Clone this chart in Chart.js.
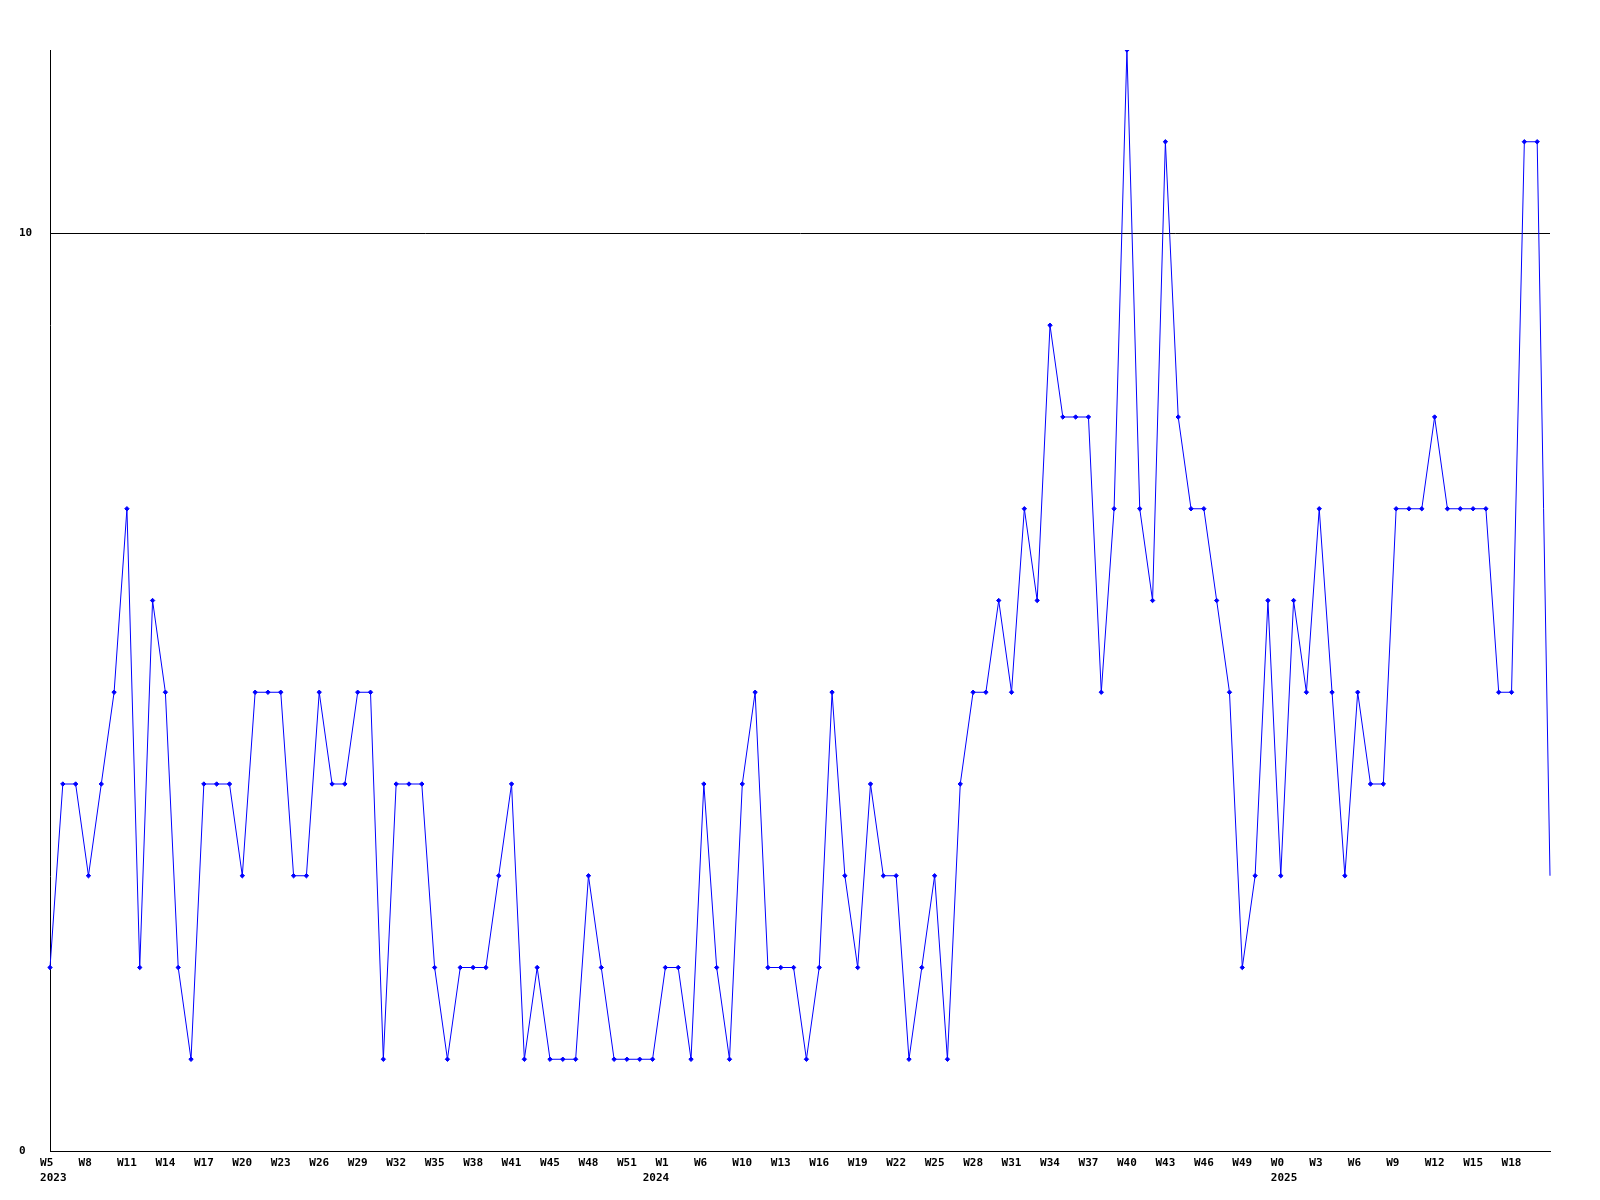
<!DOCTYPE html>
<html>
<head>
<meta charset="utf-8">
<script src="https://cdn.jsdelivr.net/npm/chart.js@4/dist/chart.umd.min.js"></script>
<style>
  html, body { margin: 0; padding: 0; background: #fff; }
  canvas { display: block; }
</style>
</head>
<body>
<canvas id="myChart" width="1600" height="1200"></canvas>
<script>
// weekly counts, one per week, oldest first
const counts = [
  2, 4, 4, 3, 4, 5, 7, 2, 6, 5,
  2, 1, 4, 4, 4, 3, 5, 5, 5, 3,
  3, 5, 4, 4, 5, 5, 1, 4, 4, 4,
  2, 1, 2, 2, 2, 3, 4, 1, 2, 1,
  1, 1, 3, 2, 1, 1, 1, 1, 2, 2,
  1, 4, 2, 1, 4, 5, 2, 2, 2, 1,
  2, 5, 3, 2, 4, 3, 3, 1, 2, 3,
  1, 4, 5, 5, 6, 5, 7, 6, 9, 8,
  8, 8, 5, 7, 12, 7, 6, 11, 8, 7,
  7, 6, 5, 2, 3, 6, 3, 6, 5, 7,
  5, 3, 5, 4, 4, 7, 7, 7, 8, 7,
  7, 7, 7, 5, 5, 11, 11, 3
];

// x tick labels, shown on every third week
const weekTicks = [
  'W5', 'W8', 'W11', 'W14', 'W17', 'W20', 'W23', 'W26', 'W29', 'W32',
  'W35', 'W38', 'W41', 'W45', 'W48', 'W51', 'W1', 'W6', 'W10', 'W13',
  'W16', 'W19', 'W22', 'W25', 'W28', 'W31', 'W34', 'W37', 'W40', 'W43',
  'W46', 'W49', 'W0', 'W3', 'W6', 'W9', 'W12', 'W15', 'W18'
];
const yearTicks = ['2023', '2024', '2025'];
const yearStart = [0, 47, 96];   // week index where each year begins

const yTicks = [0, 10];

const categories = counts.map((_, i) => i);

const font = { family: 'DejaVu Sans Mono', size: 11, weight: 'bold', lineHeight: 1.35 };

function tickLabel(i) {
  const w = i % 3 === 0 ? weekTicks[i / 3] : undefined;
  const week = w ? w.padEnd(3) : '';
  const y = yearStart.indexOf(i);
  if (y < 0) return week;
  return [week, ' ' + yearTicks[y]];
}

new Chart(document.getElementById('myChart'), {
  type: 'line',
  data: {
    labels: categories,
    datasets: [{
      data: counts,
      borderColor: '#0000ff',
      backgroundColor: '#0000ff',
      borderWidth: 1,
      tension: 0,
      pointStyle: 'rectRot',
      pointRadius: ctx => ctx.dataIndex === counts.length - 1 ? 0 : 2.2,
      pointBorderWidth: 1,
      pointBorderColor: '#0000ff',
      pointBackgroundColor: '#0000ff'
    }]
  },
  options: {
    responsive: false,
    animation: false,
    layout: { padding: { left: 19, top: 50, right: 50, bottom: 0 } },
    plugins: { legend: { display: false }, tooltip: { enabled: false } },
    scales: {
      x: {
        offset: false,
        grid: { display: false },
        border: { display: true, color: '#000', width: 1 },
        afterFit: s => { s.height = 49; },
        ticks: {
          autoSkip: false,
          maxRotation: 0,
          padding: -3,
          color: '#000',
          font,
          callback: (v, i) => tickLabel(i)
        }
      },
      y: {
        min: 0,
        max: 12,
        afterBuildTicks: s => { s.ticks = yTicks.map(v => ({ value: v })); },
        afterFit: s => { s.width = 31; },
        grid: { color: '#000', lineWidth: 1, drawTicks: false },
        border: { display: true, color: '#000', width: 1 },
        ticks: { crossAlign: 'far', color: '#000', font, padding: 0 }
      }
    }
  }
});
</script>
</body>
</html>
